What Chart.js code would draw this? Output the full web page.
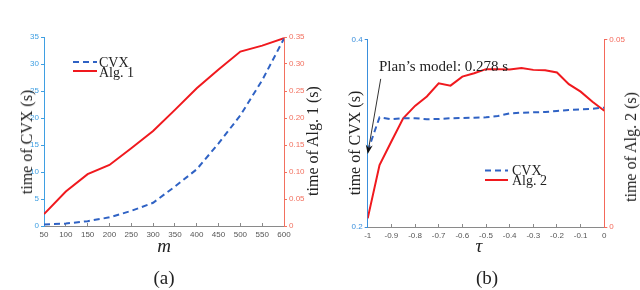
<!DOCTYPE html>
<html>
<head>
<meta charset="utf-8">
<script src="https://cdn.jsdelivr.net/npm/chart.js@4.4.0/dist/chart.umd.min.js"></script>
<style>
  body { margin: 0; background: #fff; }
  #wrap { position: relative; width: 640px; height: 290px; overflow: hidden;
          font-family: "Liberation Serif", serif; color: #222; }
  #wrap canvas { position: absolute; top: 0; }
  .t { position: absolute; white-space: nowrap; transform: translate(-50%, -50%); line-height: 1; }
  .rot { transform: translate(-50%, -50%) rotate(-90deg); }
  .lg { position: absolute; white-space: nowrap; font-size: 14px; line-height: 1; transform: translateY(-50%); }
</style>
</head>
<body>
<div id="wrap">
  <div class="t" style="left:62px;top:-6px;font-size:16px;color:#444;">tions from CVX.</div>

  <canvas id="chartA" width="320" height="290" style="left:0"></canvas>
  <canvas id="chartB" width="320" height="290" style="left:320px"></canvas>

  <!-- textes (a) -->
  <div class="t rot" style="left:27px;top:142px;font-size:16px;">time of CVX (s)</div>
  <div class="t rot" style="left:313px;top:141px;font-size:16px;">time of Alg. 1 (s)</div>
  <div class="t" style="left:164px;top:245px;font-size:19px;font-style:italic;">m</div>
  <div class="t" style="left:164px;top:277px;font-size:19px;">(a)</div>
  <div class="lg" style="left:99px;top:63px;">CVX</div>
  <div class="lg" style="left:99px;top:73px;">Alg. 1</div>

  <!-- textes (b) -->
  <div class="t rot" style="left:355px;top:143px;font-size:16px;">time of CVX (s)</div>
  <div class="t rot" style="left:631px;top:147px;font-size:16px;">time of Alg. 2 (s)</div>
  <div class="t" style="left:479px;top:245px;font-size:19px;font-style:italic;">τ</div>
  <div class="t" style="left:487px;top:277px;font-size:19px;">(b)</div>
  <div class="lg" style="left:512px;top:171px;">CVX</div>
  <div class="lg" style="left:512px;top:181px;">Alg. 2</div>
  <div class="lg" style="left:379px;top:66px;font-size:15px;">Plan’s model: 0.278 s</div>
</div>

<script>
// ---- données (a)
const mVals   = [50, 100, 150, 200, 250, 300, 350, 400, 450, 500, 550, 600];
const cvxA    = [0.3, 0.45, 0.9, 1.6, 2.8, 4.3, 7.3, 10.5, 15.3, 20.5, 27, 34.7];
const alg1    = [0.022, 0.064, 0.096, 0.113, 0.144, 0.176, 0.215, 0.255, 0.29, 0.323, 0.334, 0.348];

// ---- données (b)
const tauVals = [-1, -0.95, -0.9, -0.85, -0.8, -0.75, -0.7, -0.65, -0.6, -0.55, -0.5,
                 -0.45, -0.4, -0.35, -0.3, -0.25, -0.2, -0.15, -0.1, -0.05, 0];
const cvxB    = [0.281, 0.317, 0.315, 0.316, 0.316, 0.315, 0.3152, 0.316, 0.3163, 0.3166, 0.317,
                 0.3184, 0.3212, 0.3219, 0.3223, 0.3226, 0.3237, 0.3248, 0.3255, 0.3262, 0.3273];
const alg2    = [0.0023, 0.0165, 0.0228, 0.029, 0.0323, 0.0348, 0.0383, 0.0377, 0.0401, 0.041, 0.0421,
                 0.0421, 0.042, 0.0424, 0.0419, 0.0418, 0.0412, 0.0381, 0.0361, 0.0334, 0.031];
const planModel = { tau: -1, value: 0.278, fromTau: -0.945, fromValue: 0.358 };

const BLUE_AX = '#3f9fe2', RED_AX = '#f2705f', GREY = '#8a8a8a';
const CVX_COL = '#2f62c4', ALG_COL = '#f0191e';
const tickFont = { family: 'Liberation Sans', size: 8 };

// petites lignes de légende + flèche
const extras = {
  id: 'extras',
  afterDatasetsDraw(chart, args, opts) {
    const ctx = chart.ctx;
    ctx.save();
    (opts.legend || []).forEach((it, i) => {
      const ds = chart.data.datasets[i];
      ctx.strokeStyle = ds.borderColor;
      ctx.lineWidth = ds.borderWidth;
      ctx.setLineDash(ds.borderDash || []);
      ctx.beginPath();
      ctx.moveTo(it.x0, it.y);
      ctx.lineTo(it.x1, it.y);
      ctx.stroke();
    });
    if (opts.arrow) {
      const a = opts.arrow, xs = chart.scales.x, ys = chart.scales.y;
      const x1 = xs.getPixelForValue(a.fromTau), y1 = ys.getPixelForValue(a.fromValue);
      const x2 = xs.getPixelForValue(a.tau), y2 = ys.getPixelForValue(a.value);
      const ang = Math.atan2(y2 - y1, x2 - x1);
      ctx.setLineDash([]);
      ctx.strokeStyle = '#333';
      ctx.fillStyle = '#111';
      ctx.lineWidth = 1;
      ctx.beginPath();
      ctx.moveTo(x1, y1);
      ctx.lineTo(x2 - 6 * Math.cos(ang), y2 - 6 * Math.sin(ang));
      ctx.stroke();
      ctx.beginPath();
      ctx.moveTo(x2, y2);
      ctx.lineTo(x2 - 9 * Math.cos(ang) + 3.5 * Math.sin(ang), y2 - 9 * Math.sin(ang) - 3.5 * Math.cos(ang));
      ctx.lineTo(x2 - 6 * Math.cos(ang), y2 - 6 * Math.sin(ang));
      ctx.lineTo(x2 - 9 * Math.cos(ang) - 3.5 * Math.sin(ang), y2 - 9 * Math.sin(ang) + 3.5 * Math.cos(ang));
      ctx.closePath();
      ctx.fill();
    }
    ctx.restore();
  }
};

function yAxis(pos, color, min, max, step, width, only) {
  const s = {
    type: 'linear', position: pos, min: min, max: max,
    ticks: { stepSize: step, color: color, font: tickFont, padding: 2 },
    grid: { drawOnChartArea: false, drawTicks: true, tickLength: 3, color: color },
    border: { color: color, width: 1 },
    afterFit: sc => { sc.width = width; }
  };
  if (only) s.afterBuildTicks = sc => { sc.ticks = only.map(v => ({ value: v })); };
  return s;
}

// axe x avec petits traits vers l'intérieur
function xAxis(min, max, step, height, fmt) {
  const s = {
    type: 'linear', min: min, max: max,
    ticks: { stepSize: step, color: '#555', font: tickFont, padding: 7, maxRotation: 0 },
    grid: { drawOnChartArea: false, drawTicks: true, tickLength: -3, color: GREY },
    border: { color: GREY },
    afterFit: sc => { sc.height = height; }
  };
  if (fmt) s.ticks.callback = fmt;
  return s;
}

function lineSets(xs, cvx, alg, algLabel) {
  return [
    { label: 'CVX', data: xs.map((x, i) => ({ x: x, y: cvx[i] })), yAxisID: 'y',
      borderColor: CVX_COL, borderWidth: 2, borderDash: [6, 4], pointRadius: 0, tension: 0 },
    { label: algLabel, data: xs.map((x, i) => ({ x: x, y: alg[i] })), yAxisID: 'y2',
      borderColor: ALG_COL, borderWidth: 2, pointRadius: 0, tension: 0 }
  ];
}

const base = {
  responsive: false, animation: false, devicePixelRatio: 1,
  plugins: { legend: { display: false }, tooltip: { enabled: false } }
};

new Chart(document.getElementById('chartA'), {
  type: 'line',
  data: { datasets: lineSets(mVals, cvxA, alg1, 'Alg. 1') },
  options: Object.assign({}, base, {
    layout: { padding: { top: 37, left: 0, right: 0, bottom: 0 } },
    plugins: Object.assign({}, base.plugins, {
      extras: { legend: [{ x0: 73, x1: 97, y: 62 }, { x0: 73, x1: 97, y: 71 }] }
    }),
    scales: {
      x: xAxis(50, 600, 50, 64),
      y: yAxis('left', BLUE_AX, 0, 35, 5, 44),
      y2: yAxis('right', RED_AX, 0, 0.35, 0.05, 36)
    }
  }),
  plugins: [extras]
});

new Chart(document.getElementById('chartB'), {
  type: 'line',
  data: { datasets: lineSets(tauVals, cvxB, alg2, 'Alg. 2') },
  options: Object.assign({}, base, {
    layout: { padding: { top: 39.5, left: 0, right: 0, bottom: 0 } },
    plugins: Object.assign({}, base.plugins, {
      extras: { legend: [{ x0: 165, x1: 188, y: 170.5 }, { x0: 165, x1: 188, y: 180 }],
                arrow: planModel }
    }),
    scales: {
      x: xAxis(-1, 0, 0.1, 63, v => String(Math.round(v * 10) / 10)),
      y: yAxis('left', '#3a8fdc', 0.2, 0.4, 0.2, 47.7, [0.2, 0.4]),
      y2: yAxis('right', '#f4685a', 0, 0.05, 0.05, 35.7, [0, 0.05])
    }
  }),
  plugins: [extras]
});
</script>
</body>
</html>
